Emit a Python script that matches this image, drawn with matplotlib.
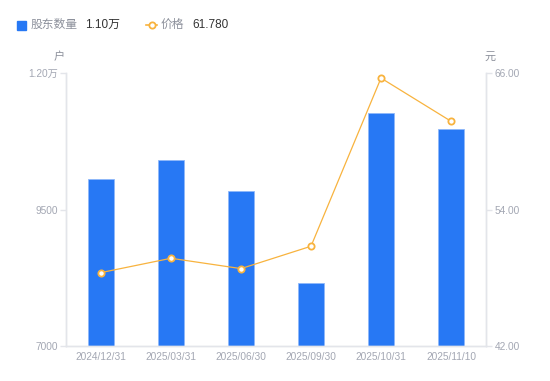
import numpy as np
import matplotlib.pyplot as plt
from matplotlib.lines import Line2D
from matplotlib.patches import Rectangle
from matplotlib.ticker import FixedLocator, FuncFormatter

plt.rcParams['font.family'] = ['Liberation Sans', 'Noto Sans CJK SC', 'DejaVu Sans']

# data
dates = ['2024/12/31', '2025/03/31', '2025/06/30', '2025/09/30', '2025/10/31', '2025/11/10']
holders = [10060, 10410, 9840, 8160, 11270, 10980]   # 股东数量 (户)
price = [48.46, 49.72, 48.81, 50.78, 65.58, 61.78]   # 价格 (元)

blue = '#2778f4'
orange = '#f8b33e'
grid_c = '#e3e5ea'
tick_c = '#a3a7b3'
lab_c = '#8c909b'

fig = plt.figure(figsize=(5.5, 3.81), dpi=100)
ax = fig.add_axes([66/550, 35/381, 420/550, 272.7/381])
ax2 = ax.twinx()

x = np.arange(len(dates))
ax.bar(x, holders, width=0.36, color=blue, edgecolor='#8fb8fa', linewidth=0.6, zorder=2)
ax.set_xlim(-0.5, len(dates) - 0.5)
ax.set_ylim(7000, 12000)
ax.yaxis.set_major_locator(FixedLocator([7000, 9500, 12000]))

def fmt_left(v, pos):
    if v >= 10000:
        return '%.2f万' % (v / 10000)
    return '%d' % v
ax.yaxis.set_major_formatter(FuncFormatter(fmt_left))

ax2.plot(x, price, color=orange, lw=0.9, marker='o', ms=4.5, mfc='white',
         mec=orange, mew=1.3, zorder=3)
ax2.set_ylim(42, 66)
ax2.yaxis.set_major_locator(FixedLocator([42, 54, 66]))
ax2.yaxis.set_major_formatter(FuncFormatter(lambda v, p: '%.2f' % v))

ax.set_xticks(x)
ax.set_xticklabels(dates)

for a in (ax, ax2):
    for s in a.spines.values():
        s.set_color(grid_c)
        s.set_linewidth(1)
    a.spines['top'].set_visible(False)
    a.tick_params(axis='y', colors=grid_c, labelcolor=tick_c, labelsize=7.3, length=4, width=1, pad=2)
ax.tick_params(axis='x', length=0, labelcolor=tick_c, labelsize=7.3, pad=4)

fig.text(59/550, 1 - 57/381, '户', color=lab_c, fontsize=8, ha='center', va='center')
fig.text(490/550, 1 - 57/381, '元', color=lab_c, fontsize=8, ha='center', va='center')

# legend row
ly = 1 - 25/381
fig.patches.append(Rectangle((17/550, 1 - 29.5/381), 9/550, 9/381, transform=fig.transFigure,
                             color=blue, figure=fig))
fig.text(31/550, ly, '股东数量', color=lab_c, fontsize=8.5, va='center')
fig.text(85/550, ly, '%.2f万' % (holders[-1] / 10000), color='#333333', fontsize=8.5, va='center')
fig.lines.append(Line2D([146/550, 157/550], [ly, ly], transform=fig.transFigure, color=orange,
                        lw=1.2))
fig.lines.append(Line2D([151.5/550], [ly], transform=fig.transFigure, color=orange, lw=0,
                        marker='o', ms=4.5, mfc='white', mec=orange, mew=1.3))
fig.text(161/550, ly, '价格', color=lab_c, fontsize=8.5, va='center')
fig.text(192/550, ly, '%.3f' % price[-1], color='#333333', fontsize=8.5, va='center')

plt.savefig('out.png', dpi=100)
